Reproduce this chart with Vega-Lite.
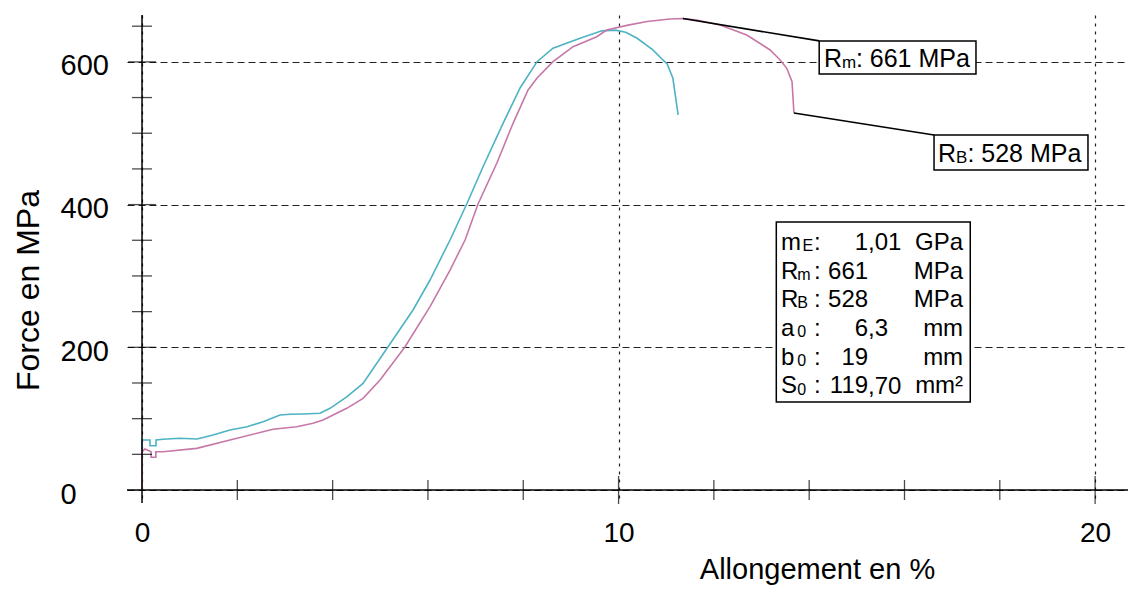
{
  "$schema": "https://vega.github.io/schema/vega-lite/v6.json",
  "width": 1001,
  "height": 488,
  "autosize": {"type": "none"},
  "padding": {"left": 127, "top": 15, "right": 0, "bottom": 89},
  "background": "white",
  "config": {
    "view": {"stroke": null},
    "font": "Liberation Sans",
    "text": {"font": "Liberation Sans", "color": "black"},
    "axis": {"labelFont": "Liberation Sans", "titleFont": "Liberation Sans", "labelColor": "black", "titleColor": "black", "titleFontWeight": "normal"}
  },
  "datasets": {
    "curves": [
      {"s": "Essai 1", "i": 0, "x": 0, "y": 0},
      {"s": "Essai 1", "i": 1, "x": 0, "y": 70.1},
      {"s": "Essai 1", "i": 2, "x": 0.126, "y": 70.1},
      {"s": "Essai 1", "i": 3, "x": 0.168, "y": 70.1},
      {"s": "Essai 1", "i": 4, "x": 0.168, "y": 62},
      {"s": "Essai 1", "i": 5, "x": 0.294, "y": 62},
      {"s": "Essai 1", "i": 6, "x": 0.294, "y": 70.1},
      {"s": "Essai 1", "i": 7, "x": 0.441, "y": 71.1},
      {"s": "Essai 1", "i": 8, "x": 0.797, "y": 72.5},
      {"s": "Essai 1", "i": 9, "x": 1.154, "y": 71.5},
      {"s": "Essai 1", "i": 10, "x": 1.49, "y": 77.1},
      {"s": "Essai 1", "i": 11, "x": 1.847, "y": 84.1},
      {"s": "Essai 1", "i": 12, "x": 2.204, "y": 88.7},
      {"s": "Essai 1", "i": 13, "x": 2.54, "y": 95.7},
      {"s": "Essai 1", "i": 14, "x": 2.896, "y": 105.1},
      {"s": "Essai 1", "i": 15, "x": 3.106, "y": 106.1},
      {"s": "Essai 1", "i": 16, "x": 3.379, "y": 106.5},
      {"s": "Essai 1", "i": 17, "x": 3.736, "y": 107.5},
      {"s": "Essai 1", "i": 18, "x": 3.945, "y": 114.5},
      {"s": "Essai 1", "i": 19, "x": 4.302, "y": 130.8},
      {"s": "Essai 1", "i": 20, "x": 4.638, "y": 149.5},
      {"s": "Essai 1", "i": 21, "x": 5.163, "y": 200.8},
      {"s": "Essai 1", "i": 22, "x": 5.687, "y": 252.3},
      {"s": "Essai 1", "i": 23, "x": 6.044, "y": 294.3},
      {"s": "Essai 1", "i": 24, "x": 6.464, "y": 350.4},
      {"s": "Essai 1", "i": 25, "x": 6.814, "y": 400.8},
      {"s": "Essai 1", "i": 26, "x": 7.156, "y": 453.1},
      {"s": "Essai 1", "i": 27, "x": 7.576, "y": 513.9},
      {"s": "Essai 1", "i": 28, "x": 7.933, "y": 563.4},
      {"s": "Essai 1", "i": 29, "x": 8.29, "y": 600.3},
      {"s": "Essai 1", "i": 30, "x": 8.625, "y": 619.1},
      {"s": "Essai 1", "i": 31, "x": 9.192, "y": 633.1},
      {"s": "Essai 1", "i": 32, "x": 9.65, "y": 643.5},
      {"s": "Essai 1", "i": 33, "x": 9.93, "y": 644.5},
      {"s": "Essai 1", "i": 34, "x": 10.15, "y": 641.5},
      {"s": "Essai 1", "i": 35, "x": 10.39, "y": 633.1},
      {"s": "Essai 1", "i": 36, "x": 10.72, "y": 616.7},
      {"s": "Essai 1", "i": 37, "x": 10.93, "y": 602.7},
      {"s": "Essai 1", "i": 38, "x": 11.02, "y": 597.0},
      {"s": "Essai 1", "i": 39, "x": 11.14, "y": 577.0},
      {"s": "Essai 1", "i": 40, "x": 11.25, "y": 525.6},
      {"s": "Essai 2", "i": 0, "x": 0, "y": 0},
      {"s": "Essai 2", "i": 1, "x": 0, "y": 53.3},
      {"s": "Essai 2", "i": 2, "x": 0.063, "y": 57.5},
      {"s": "Essai 2", "i": 3, "x": 0.19, "y": 53.7},
      {"s": "Essai 2", "i": 4, "x": 0.19, "y": 46},
      {"s": "Essai 2", "i": 5, "x": 0.29, "y": 46},
      {"s": "Essai 2", "i": 6, "x": 0.29, "y": 53.7},
      {"s": "Essai 2", "i": 7, "x": 0.441, "y": 53.7},
      {"s": "Essai 2", "i": 8, "x": 1.148, "y": 58.4},
      {"s": "Essai 2", "i": 9, "x": 1.847, "y": 70.1},
      {"s": "Essai 2", "i": 10, "x": 2.54, "y": 81.7},
      {"s": "Essai 2", "i": 11, "x": 2.749, "y": 85.1},
      {"s": "Essai 2", "i": 12, "x": 3.247, "y": 88.7},
      {"s": "Essai 2", "i": 13, "x": 3.589, "y": 93.5},
      {"s": "Essai 2", "i": 14, "x": 3.799, "y": 98.1},
      {"s": "Essai 2", "i": 15, "x": 4.296, "y": 114.5},
      {"s": "Essai 2", "i": 16, "x": 4.638, "y": 128.5},
      {"s": "Essai 2", "i": 17, "x": 4.995, "y": 154.2},
      {"s": "Essai 2", "i": 18, "x": 5.52, "y": 200.8},
      {"s": "Essai 2", "i": 19, "x": 6.044, "y": 256.9},
      {"s": "Essai 2", "i": 20, "x": 6.464, "y": 308.3},
      {"s": "Essai 2", "i": 21, "x": 6.779, "y": 350.4},
      {"s": "Essai 2", "i": 22, "x": 7.051, "y": 400.8},
      {"s": "Essai 2", "i": 23, "x": 7.444, "y": 457.9},
      {"s": "Essai 2", "i": 24, "x": 7.786, "y": 513.9},
      {"s": "Essai 2", "i": 25, "x": 8.101, "y": 560.6},
      {"s": "Essai 2", "i": 26, "x": 8.29, "y": 577.4},
      {"s": "Essai 2", "i": 27, "x": 8.625, "y": 600.3},
      {"s": "Essai 2", "i": 28, "x": 9.045, "y": 621.3},
      {"s": "Essai 2", "i": 29, "x": 9.543, "y": 635.3},
      {"s": "Essai 2", "i": 30, "x": 9.75, "y": 644.7},
      {"s": "Essai 2", "i": 31, "x": 10.2, "y": 651.5},
      {"s": "Essai 2", "i": 32, "x": 10.6, "y": 656.5},
      {"s": "Essai 2", "i": 33, "x": 11.08, "y": 660.1},
      {"s": "Essai 2", "i": 34, "x": 11.35, "y": 660.8},
      {"s": "Essai 2", "i": 35, "x": 11.64, "y": 658.7},
      {"s": "Essai 2", "i": 36, "x": 12.13, "y": 651.7},
      {"s": "Essai 2", "i": 37, "x": 12.69, "y": 637.7},
      {"s": "Essai 2", "i": 38, "x": 13.18, "y": 616.7},
      {"s": "Essai 2", "i": 39, "x": 13.39, "y": 602.7},
      {"s": "Essai 2", "i": 40, "x": 13.53, "y": 591.0},
      {"s": "Essai 2", "i": 41, "x": 13.64, "y": 572.3},
      {"s": "Essai 2", "i": 42, "x": 13.68, "y": 528.4}
    ],
    "xminor": [{"v": 2}, {"v": 4}, {"v": 6}, {"v": 8}, {"v": 12}, {"v": 14}, {"v": 16}, {"v": 18}],
    "xmajor": [{"v": 10}, {"v": 20}],
    "yminor": [{"v": 50}, {"v": 100}, {"v": 150}, {"v": 250}, {"v": 300}, {"v": 350}, {"v": 450}, {"v": 500}, {"v": 550}, {"v": 650}],
    "ymajor": [{"v": 200}, {"v": 400}, {"v": 600}],
    "one": [{}]
  },
  "layer": [
    {
      "data": {"name": "curves"},
      "mark": {"type": "line", "strokeWidth": 1.6, "clip": true},
      "encoding": {
        "x": {
          "field": "x", "type": "quantitative",
          "scale": {"domain": [-0.315, 20.69], "nice": false, "zero": false},
          "axis": {
            "title": "Allongement en %", "values": [0, 10, 20], "format": "d",
            "labelFontSize": 28, "domain": false, "ticks": false, "tickSize": 0,
            "labelPadding": 16, "labelFlush": false, "labelOverlap": false,
            "grid": true, "gridDash": [3, 5], "gridColor": "#222", "gridWidth": 1.2,
            "titleFontSize": 29, "titleX": 690, "titleY": 75,
            "titleBaseline": "alphabetic", "titleAlign": "center"
          }
        },
        "y": {
          "field": "y", "type": "quantitative",
          "scale": {"domain": [-18.2, 665.7], "nice": false, "zero": false},
          "axis": {
            "title": "Force en MPa", "values": [0, 200, 400, 600], "format": "d",
            "labelFontSize": 29, "domain": false, "ticks": false, "tickSize": 0,
            "labelPadding": 67, "labelAlign": "left", "labelBaseline": "middle", "labelOffset": 4,
            "labelFlush": false, "labelOverlap": false,
            "grid": true, "gridDash": [7, 4], "gridColor": "#222", "gridWidth": 1.2,
            "titleFontSize": 32, "titleAngle": 270, "titleX": -99, "titleY": 275,
            "titleBaseline": "middle", "titleAlign": "center"
          }
        },
        "color": {"field": "s", "type": "nominal", "scale": {"domain": ["Essai 1", "Essai 2"], "range": ["#4db3c3", "#c678a6"]}, "legend": null},
        "order": {"field": "i", "type": "quantitative"}
      }
    },
    {
      "data": {"name": "one"},
      "mark": {"type": "rule", "color": "black", "strokeWidth": 1.5},
      "encoding": {"x": {"datum": 0, "type": "quantitative"}}
    },
    {
      "data": {"name": "one"},
      "mark": {"type": "rule", "color": "black", "strokeWidth": 1.5},
      "encoding": {"y": {"datum": 0, "type": "quantitative"}}
    },
    {
      "data": {"name": "xminor"},
      "mark": {"type": "tick", "orient": "vertical", "size": 20, "thickness": 1.3, "color": "black"},
      "encoding": {"x": {"field": "v", "type": "quantitative"}, "y": {"datum": 0, "type": "quantitative"}}
    },
    {
      "data": {"name": "xmajor"},
      "mark": {"type": "tick", "orient": "vertical", "size": 28, "thickness": 1.3, "color": "black"},
      "encoding": {"x": {"field": "v", "type": "quantitative"}, "y": {"datum": 0, "type": "quantitative"}}
    },
    {
      "data": {"name": "yminor"},
      "mark": {"type": "tick", "orient": "horizontal", "size": 20, "thickness": 1.3, "color": "black"},
      "encoding": {"y": {"field": "v", "type": "quantitative"}, "x": {"datum": 0, "type": "quantitative"}}
    },
    {
      "data": {"name": "ymajor"},
      "mark": {"type": "tick", "orient": "horizontal", "size": 28, "thickness": 1.3, "color": "black"},
      "encoding": {"y": {"field": "v", "type": "quantitative"}, "x": {"datum": 0, "type": "quantitative"}}
    },
    {
      "data": {"name": "one"},
      "mark": {"type": "rule", "color": "black", "strokeWidth": 1.6},
      "encoding": {
        "x": {"datum": 11.35, "type": "quantitative"}, "y": {"datum": 660.8, "type": "quantitative"},
        "x2": {"datum": 14.21}, "y2": {"datum": 629.4}
      }
    },
    {
      "data": {"name": "one"},
      "mark": {"type": "rule", "color": "black", "strokeWidth": 1.6},
      "encoding": {
        "x": {"datum": 13.68, "type": "quantitative"}, "y": {"datum": 528.4, "type": "quantitative"},
        "x2": {"datum": 16.62}, "y2": {"datum": 497.5}
      }
    },
    {
      "data": {"name": "one"},
      "mark": {"type": "rect", "fill": "white", "stroke": "black", "strokeWidth": 1.5},
      "encoding": {
        "x": {"datum": 14.21, "type": "quantitative"}, "x2": {"datum": 17.5},
        "y": {"datum": 629.3, "type": "quantitative"}, "y2": {"datum": 583.0}
      }
    },
    {
      "data": {"name": "one"},
      "mark": {"type": "rect", "fill": "white", "stroke": "black", "strokeWidth": 1.5},
      "encoding": {
        "x": {"datum": 16.62, "type": "quantitative"}, "x2": {"datum": 19.85},
        "y": {"datum": 497.5, "type": "quantitative"}, "y2": {"datum": 448.5}
      }
    },
    {
      "data": {"name": "one"},
      "mark": {"type": "rect", "fill": "white", "stroke": "black", "strokeWidth": 1.5},
      "encoding": {
        "x": {"datum": 13.31, "type": "quantitative"}, "x2": {"datum": 17.38},
        "y": {"datum": 375.6, "type": "quantitative"}, "y2": {"datum": 123.3}
      }
    },
    {
      "data": {"name": "one"},
      "mark": {"type": "text", "text": "R", "fontSize": 25, "align": "left", "baseline": "alphabetic"},
      "encoding": {"x": {"datum": 14.31, "type": "quantitative"}, "y": {"datum": 592.9, "type": "quantitative"}}
    },
    {
      "data": {"name": "one"},
      "mark": {"type": "text", "text": "m", "fontSize": 17, "align": "left", "baseline": "alphabetic", "dy": 1},
      "encoding": {"x": {"datum": 14.69, "type": "quantitative"}, "y": {"datum": 592.9, "type": "quantitative"}}
    },
    {
      "data": {"name": "one"},
      "mark": {"type": "text", "text": ": 661 MPa", "fontSize": 25, "align": "left", "baseline": "alphabetic"},
      "encoding": {"x": {"datum": 14.98, "type": "quantitative"}, "y": {"datum": 592.9, "type": "quantitative"}}
    },
    {
      "data": {"name": "one"},
      "mark": {"type": "text", "text": "R", "fontSize": 25, "align": "left", "baseline": "alphabetic"},
      "encoding": {"x": {"datum": 16.705, "type": "quantitative"}, "y": {"datum": 459.7, "type": "quantitative"}}
    },
    {
      "data": {"name": "one"},
      "mark": {"type": "text", "text": "B", "fontSize": 17, "align": "left", "baseline": "alphabetic", "dy": 1},
      "encoding": {"x": {"datum": 17.08, "type": "quantitative"}, "y": {"datum": 459.7, "type": "quantitative"}}
    },
    {
      "data": {"name": "one"},
      "mark": {"type": "text", "text": ": 528 MPa", "fontSize": 25, "align": "left", "baseline": "alphabetic"},
      "encoding": {"x": {"datum": 17.32, "type": "quantitative"}, "y": {"datum": 459.7, "type": "quantitative"}}
    },
    {
      "data": {"name": "one"},
      "mark": {"type": "text", "text": ["m", "R", "R", "a", "b", "S"], "fontSize": 24, "lineHeight": 28.7, "align": "left", "baseline": "alphabetic"},
      "encoding": {"x": {"datum": 13.41, "type": "quantitative"}, "y": {"datum": 336.4, "type": "quantitative"}}
    },
    {
      "data": {"name": "one"},
      "mark": {"type": "text", "text": "E", "fontSize": 16, "align": "left", "baseline": "alphabetic", "dy": 1},
      "encoding": {"x": {"datum": 13.86, "type": "quantitative"}, "y": {"datum": 336.4, "type": "quantitative"}}
    },
    {
      "data": {"name": "one"},
      "mark": {"type": "text", "text": ["m", "B", "0", "0", "0"], "fontSize": 16, "lineHeight": 28.7, "align": "left", "baseline": "alphabetic", "dy": 1},
      "encoding": {"x": {"datum": 13.75, "type": "quantitative"}, "y": {"datum": 296.1, "type": "quantitative"}}
    },
    {
      "data": {"name": "one"},
      "mark": {"type": "text", "text": [":", ":", ":", ":", ":", ":"], "fontSize": 24, "lineHeight": 28.7, "align": "center", "baseline": "alphabetic"},
      "encoding": {"x": {"datum": 14.17, "type": "quantitative"}, "y": {"datum": 336.4, "type": "quantitative"}}
    },
    {
      "data": {"name": "one"},
      "mark": {"type": "text", "text": ["1", "661", "528", "6", "19", "119"], "fontSize": 24, "lineHeight": 28.7, "align": "right", "baseline": "alphabetic"},
      "encoding": {"x": {"datum": 15.236, "type": "quantitative"}, "y": {"datum": 336.4, "type": "quantitative"}}
    },
    {
      "data": {"name": "one"},
      "mark": {"type": "text", "text": ",01", "fontSize": 24, "align": "left", "baseline": "alphabetic"},
      "encoding": {"x": {"datum": 15.236, "type": "quantitative"}, "y": {"datum": 336.4, "type": "quantitative"}}
    },
    {
      "data": {"name": "one"},
      "mark": {"type": "text", "text": ",3", "fontSize": 24, "align": "left", "baseline": "alphabetic"},
      "encoding": {"x": {"datum": 15.236, "type": "quantitative"}, "y": {"datum": 215.7, "type": "quantitative"}}
    },
    {
      "data": {"name": "one"},
      "mark": {"type": "text", "text": ",70", "fontSize": 24, "align": "left", "baseline": "alphabetic"},
      "encoding": {"x": {"datum": 15.236, "type": "quantitative"}, "y": {"datum": 135.2, "type": "quantitative"}}
    },
    {
      "data": {"name": "one"},
      "mark": {"type": "text", "text": ["GPa", "MPa", "MPa", "mm", "mm", "mm²"], "fontSize": 24, "lineHeight": 28.7, "align": "right", "baseline": "alphabetic"},
      "encoding": {"x": {"datum": 17.23, "type": "quantitative"}, "y": {"datum": 336.4, "type": "quantitative"}}
    }
  ]
}
